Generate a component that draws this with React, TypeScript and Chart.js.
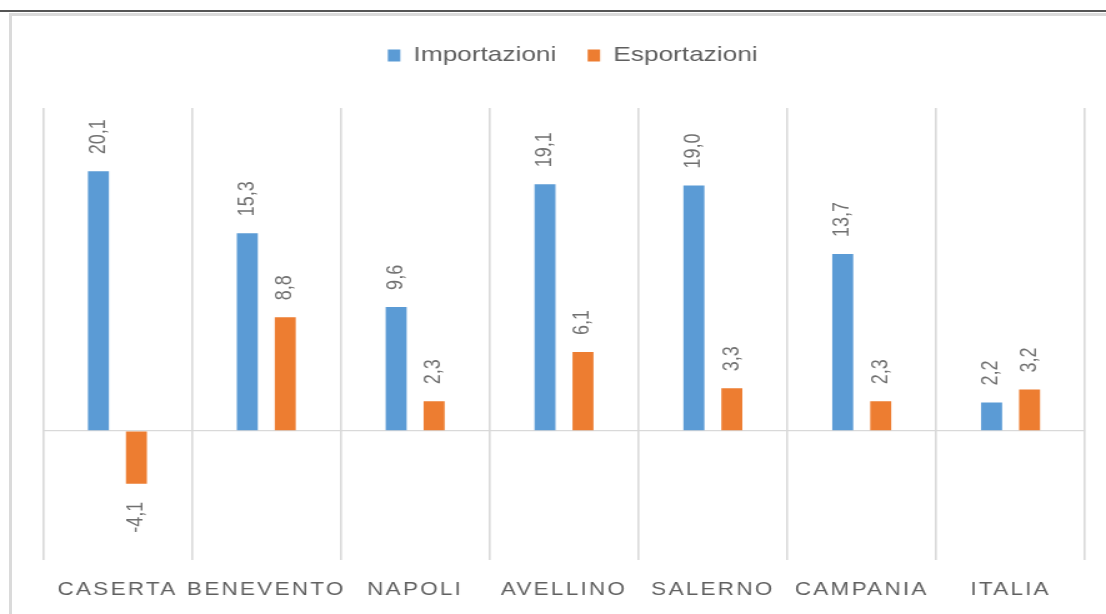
import { useEffect, useRef } from 'react';
import { Chart, registerables } from 'chart.js';

Chart.register(...registerables);

const categories = ['CASERTA', 'BENEVENTO', 'NAPOLI', 'AVELLINO', 'SALERNO', 'CAMPANIA', 'ITALIA'];
const seriesNames = ['Importazioni', 'Esportazioni'];
const importazioni = [20.1, 15.3, 9.6, 19.1, 19.0, 13.7, 2.2];
const esportazioni = [-4.1, 8.8, 2.3, 6.1, 3.3, 2.3, 3.2];
const seriesColors = ['#5b9bd5', '#ed7d31'];
const yMin = -10;
const yMax = 25;

const CANVAS_W = 885;
const CANVAS_H = 614;
const FONT = '"Liberation Sans", Arial, sans-serif';

const fmt = (v: number) => v.toFixed(1).replace('.', ',');

const legendGap = {
  id: 'legendGap',
  beforeInit(chart: any) {
    const legend = chart.legend;
    if (!legend) return;
    const orig = legend.fit;
    legend.fit = function () {
      orig.call(this);
      this.height += 32;
    };
  },
  afterLayout(chart: any) {
    const legend = chart.legend;
    if (!legend) return;
    legend.left += 7;
    legend.right += 7;
  },
};

const spacedXLabels = {
  id: 'spacedXLabels',
  afterLayout(chart: any) {
    const sx = chart.scales.x;
    if (!sx || sx.__spaced) return;
    const orig = sx.drawLabels;
    sx.drawLabels = function (area: any) {
      const ctx = chart.ctx;
      const prev = (ctx as any).letterSpacing;
      (ctx as any).letterSpacing = '1.8px';
      orig.call(this, area);
      (ctx as any).letterSpacing = prev || '0px';
    };
    sx.__spaced = true;
  },
};

const dataLabels = {
  id: 'dataLabels',
  afterDatasetsDraw(chart: any) {
    const ctx = chart.ctx;
    chart.data.datasets.forEach((ds: any, di: number) => {
      const meta = chart.getDatasetMeta(di);
      meta.data.forEach((el: any, i: number) => {
        const v = ds.data[i] as number;
        ctx.save();
        ctx.translate(el.x, v >= 0 ? el.y - 17 : el.y + 18);
        ctx.rotate(-Math.PI / 2);
        ctx.font = `18px ${FONT}`;
        ctx.fillStyle = '#707070';
        ctx.textAlign = v >= 0 ? 'left' : 'right';
        ctx.textBaseline = 'middle';
        ctx.fillText(fmt(v), 0, 0);
        ctx.restore();
      });
    });
  },
};

export default function App() {
  const ref = useRef<HTMLCanvasElement | null>(null);

  useEffect(() => {
    if (!ref.current) return;
    const chart = new Chart(ref.current, {
      type: 'bar',
      data: {
        labels: categories,
        datasets: [
          {
            label: seriesNames[0],
            data: importazioni,
            backgroundColor: seriesColors[0],
            categoryPercentage: 0.51,
            barPercentage: 0.553,
          },
          {
            label: seriesNames[1],
            data: esportazioni,
            backgroundColor: seriesColors[1],
            categoryPercentage: 0.51,
            barPercentage: 0.553,
          },
        ],
      },
      options: {
        responsive: false,
        animation: false,
        devicePixelRatio: 1,
        layout: { padding: { top: 20, left: 34.4, right: 16.8, bottom: 0 } },
        plugins: {
          tooltip: { enabled: false },
          legend: {
            position: 'top',
            labels: {
              boxWidth: 10,
              boxHeight: 12,
              padding: 25,
              color: '#5f5f5f',
              font: { family: FONT, size: 21 },
            },
          },
        },
        scales: {
          x: {
            grid: {
              display: true,
              offset: true,
              color: '#d9d9d9',
              lineWidth: 1.6,
              drawTicks: false,
            },
            border: { display: false },
            ticks: {
              color: '#606060',
              font: { family: FONT, size: 18 },
              padding: 19,
              maxRotation: 0,
              autoSkip: false,
            },
            afterFit: (s: any) => {
              s.height = 54;
            },
          },
          y: {
            min: yMin,
            max: yMax,
            ticks: { display: false, stepSize: 5 },
            border: { display: false },
            grid: {
              drawTicks: false,
              color: (c: any) => (c.tick && c.tick.value === 0 ? '#d9d9d9' : 'rgba(0,0,0,0)'),
              lineWidth: 1.3,
            },
            afterFit: (s: any) => {
              s.width = 0;
            },
          },
        },
      },
      plugins: [legendGap, spacedXLabels, dataLabels],
    });
    return () => chart.destroy();
  }, []);

  return (
    <div style={{ position: 'absolute', left: 0, top: 0, width: 1106, height: 614, background: '#fff', overflow: 'hidden' }}>
      <div style={{ position: 'absolute', left: 0, top: 10, width: 1106, height: 2, background: '#555' }} />
      <div style={{ position: 'absolute', left: 9, top: 13, width: 1097, height: 3, background: '#dadada' }} />
      <div style={{ position: 'absolute', left: 9, top: 13, width: 3, height: 601, background: '#dadada' }} />
      <canvas
        ref={ref}
        width={CANVAS_W}
        height={CANVAS_H}
        style={{ position: 'absolute', left: 0, top: 0, width: '1106px', height: '614px' }}
      />
    </div>
  );
}
